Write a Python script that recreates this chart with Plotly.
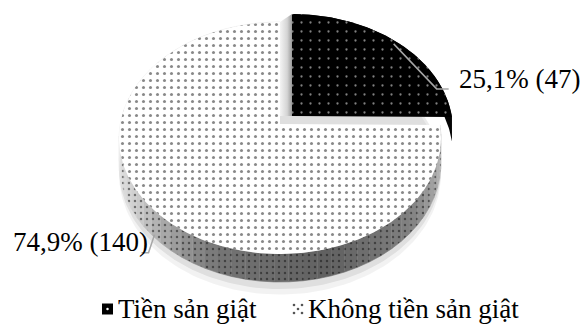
import numpy as np
import plotly.graph_objects as go

# Data
categories = ["Tiền sản giật", "Không tiền sản giật"]
counts = [47, 140]

# Canvas and 3D pie geometry (pixel units)
W, H = 588, 331
RX, RY, DIST, THICK = 159.8, 114.3, 8.27, 24.6
CENTERS = [(292.0, 116.0), (280.0, 124.0)]  # first slice pulled out a little
START = 90.0
FONT = "Liberation Serif"

total = sum(counts)
shares = [c / total for c in counts]


def project(center, theta, r=1.0, depth=0.0):
    """Project a point of the tilted disc (perspective view) to the canvas."""
    th = np.radians(theta)
    u = r * np.cos(th)
    v = -r * np.sin(th)
    s = DIST / (DIST - v)
    x = center[0] + RX * u * s
    y = center[1] + RY * v * s + THICK * depth * s
    return x, y


def wall_shade(theta):
    t = np.mod(theta, 360.0)
    t = np.where(t < 90, t + 360, t)
    keys = [90, 180, 215, 250, 285, 320, 360, 450]
    light = [0.90, 0.95, 0.80, 0.46, 0.38, 0.52, 0.82, 0.82]
    g = int(255 * float(np.interp(t, keys, light)))
    return f"rgb({g},{g},{g})"


fig = go.Figure()

# slice angle ranges (clockwise from 12 o'clock)
bounds = []
acc = START
for sh in shares:
    bounds.append((acc, acc - 360.0 * sh))
    acc -= 360.0 * sh

# soft shadow under the pie
for dep, alpha in [(1.45, 0.05), (1.25, 0.08)]:
    th = np.linspace(0, 360, 200)
    sx, sy = project(CENTERS[1], th, 1.0, dep)
    fig.add_trace(go.Scatter(x=sx, y=sy, fill="toself", mode="lines",
                             line=dict(width=0), fillcolor=f"rgba(0,0,0,{alpha})",
                             hoverinfo="skip"))

# side wall of the large slice, shaded in narrow bands
c1 = CENTERS[1]
t0, t1 = bounds[1]
edges = np.linspace(t0, t1, 60)
for a, b in zip(edges[:-1], edges[1:]):
    th = np.linspace(a, b, 6)
    xt, yt = project(c1, th)
    xb, yb = project(c1, th[::-1], 1.0, 1.0)
    col = wall_shade((a + b) / 2)
    fig.add_trace(go.Scatter(
        x=np.r_[xt, xb], y=np.r_[yt, yb], fill="toself", mode="lines",
        line=dict(width=0.6, color=col), fillcolor=col,
        fillpattern=dict(shape=".", size=6, solidity=0.13, fgcolor="#101010"),
        hoverinfo="skip"))

# side wall of the small slice
c0 = CENTERS[0]
th = np.linspace(bounds[0][0], bounds[0][1], 80)
xt, yt = project(c0, th)
xb, yb = project(c0, th[::-1], 1.0, 1.0)
fig.add_trace(go.Scatter(x=np.r_[xt, xb], y=np.r_[yt, yb], fill="toself",
                         mode="lines", line=dict(width=0), fillcolor="#050505",
                         hoverinfo="skip"))

# top face of the large slice
th = np.linspace(t0, t1, 300)
ax_, ay_ = project(c1, th)
fig.add_trace(go.Scatter(
    x=np.r_[c1[0], ax_, c1[0]], y=np.r_[c1[1], ay_, c1[1]], fill="toself",
    mode="lines", line=dict(width=0), fillcolor="white",
    fillpattern=dict(shape=".", size=7, solidity=0.15, fgcolor="#111111"),
    name=categories[1], hoverinfo="skip"))

# inner face visible in the gap between the two slices
gx0, gy0 = project(c1, START)
gx1, gy1 = project(c0, START)
fig.add_trace(go.Scatter(
    x=[gx0, gx1, c0[0], c1[0], gx0], y=[gy0, gy1, c0[1], c0[1], gy0],
    fill="toself", mode="lines", line=dict(width=0),
    fillgradient=dict(type="horizontal",
                      colorscale=[[0, "#f4f4f4"], [0.6, "#d4d4d4"], [1, "#9a9a9a"]]),
    hoverinfo="skip"))

# top face of the small slice
th = np.linspace(bounds[0][0], bounds[0][1], 120)
bx_, by_ = project(c0, th)
fig.add_trace(go.Scatter(
    x=np.r_[c0[0], bx_, c0[0]], y=np.r_[c0[1], by_, c0[1]], fill="toself",
    mode="lines", line=dict(width=0), fillcolor="black",
    fillpattern=dict(shape=".", size=9, solidity=0.05, fgcolor="white"),
    name=categories[0], hoverinfo="skip"))


def pct_label(i):
    return f"{100 * shares[i]:.1f}".replace(".", ",") + f"% ({counts[i]})"


# leader line + label, small slice
mid0 = (bounds[0][0] + bounds[0][1]) / 2
lx, ly = project(c0, mid0, 0.97)
ex, ey = lx + 43, ly + 45
fig.add_trace(go.Scatter(x=[lx, ex, ex + 12], y=[ly, ey, ey], mode="lines",
                         line=dict(color="#a6a6a6", width=1.5), hoverinfo="skip"))
fig.add_annotation(x=ex + 20, y=ey - 10, xref="x", yref="y", text=pct_label(0),
                   showarrow=False, xanchor="left", yanchor="middle",
                   font=dict(family=FONT, size=27, color="black"))

# leader line + label, large slice
lx, ly = project(c1, 224, 1.0, 0.9)
ex, ey = lx - 6, ly + 18
fig.add_trace(go.Scatter(x=[lx, ex, ex - 7], y=[ly, ey, ey], mode="lines",
                         line=dict(color="#a6a6a6", width=1.5), hoverinfo="skip"))
fig.add_annotation(x=ex + 1, y=ey - 11, xref="x", yref="y", text=pct_label(1),
                   showarrow=False, xanchor="right", yanchor="middle",
                   font=dict(family=FONT, size=27, color="black"))

# legend drawn beneath the pie
LEG_Y = 309
sw = [(107.5, categories[0]), (298.0, categories[1])]
fig.add_trace(go.Scatter(x=[sw[0][0]], y=[LEG_Y], mode="markers",
                         marker=dict(symbol="square", size=11, color="black"),
                         hoverinfo="skip"))
fig.add_trace(go.Scatter(x=[sw[0][0]], y=[LEG_Y], mode="markers",
                         marker=dict(symbol="circle", size=2.5, color="white"),
                         hoverinfo="skip"))
d = 4
fig.add_trace(go.Scatter(x=[sw[1][0] - d, sw[1][0] + d, sw[1][0], sw[1][0] - d, sw[1][0] + d],
                         y=[LEG_Y - d, LEG_Y - d, LEG_Y, LEG_Y + d, LEG_Y + d],
                         mode="markers",
                         marker=dict(symbol="circle", size=2.6, color="#555555"),
                         hoverinfo="skip"))
for x0, name in sw:
    fig.add_annotation(x=x0 + 8, y=LEG_Y, xref="x", yref="y", text=name,
                       showarrow=False, xanchor="left", yanchor="middle",
                       font=dict(family=FONT, size=27, color="black"))

fig.update_layout(
    width=W, height=H, margin=dict(l=0, r=0, t=0, b=0),
    paper_bgcolor="white", plot_bgcolor="white", showlegend=False,
    xaxis=dict(range=[0, W], visible=False, fixedrange=True),
    yaxis=dict(range=[H, 0], visible=False, fixedrange=True),
)

fig.write_html("out.html")
